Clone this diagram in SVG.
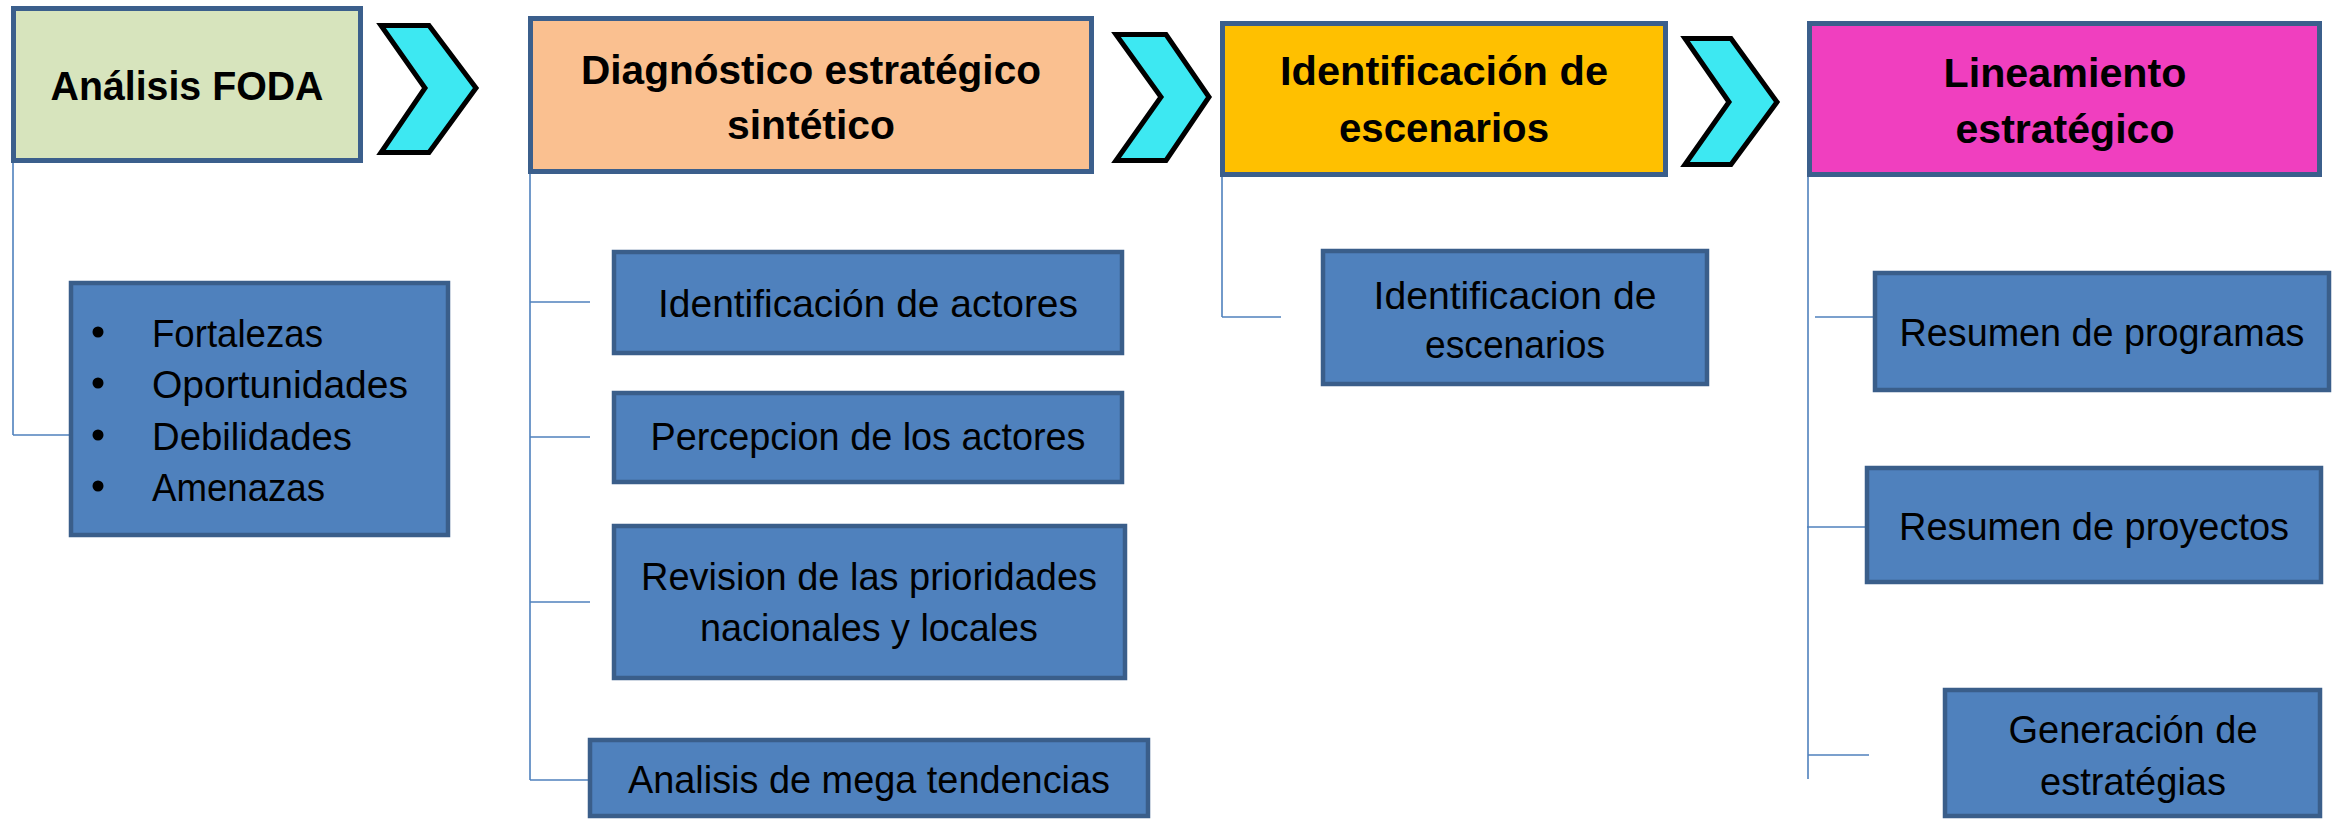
<svg xmlns="http://www.w3.org/2000/svg" width="2336" height="821" viewBox="0 0 2336 821">
<style>
.hdr{stroke:#3B5F8C;stroke-width:5}
.child{fill:#4F81BD;stroke:#3A5E8A;stroke-width:4.5}
.chev{fill:#3DE8F2;stroke:#000;stroke-width:5;stroke-linejoin:miter}
.tb{font-family:"Liberation Sans",Arial,sans-serif;font-weight:bold;font-size:40px;fill:#000;text-anchor:middle}
.tr{font-family:"Liberation Sans",Arial,sans-serif;font-size:39px;fill:#000;text-anchor:middle}
.tl{font-family:"Liberation Sans",Arial,sans-serif;font-size:39px;fill:#000}
.conn line{stroke:#4F81BD;stroke-width:1.6;fill:none}
</style>
<rect width="2336" height="821" fill="#fff"/>
<g class="conn" id="connectors">
<line x1="13" y1="160" x2="13" y2="435"/>
<line x1="13" y1="435" x2="70" y2="435"/>
<line x1="530" y1="172" x2="530" y2="780"/>
<line x1="530" y1="302" x2="590" y2="302"/>
<line x1="530" y1="437" x2="590" y2="437"/>
<line x1="530" y1="602" x2="590" y2="602"/>
<line x1="530" y1="780" x2="589" y2="780"/>
<line x1="1222" y1="175" x2="1222" y2="317"/>
<line x1="1222" y1="317" x2="1281" y2="317"/>
<line x1="1808" y1="175" x2="1808" y2="779"/>
<line x1="1815" y1="317" x2="1875" y2="317"/>
<line x1="1807" y1="527" x2="1867" y2="527"/>
<line x1="1808" y1="755" x2="1869" y2="755"/>
</g>
<g id="chevrons">
<polygon class="chev" points="381,25.5 429,25.5 476,88 429,152.5 381,152.5 425,88"/>
<polygon class="chev" points="1116,34.5 1166,34.5 1209,97 1166,160.5 1116,160.5 1161,97"/>
<polygon class="chev" points="1685,38.5 1731,38.5 1777,102 1731,164.5 1685,164.5 1729,102"/>
</g>
<g id="n-foda">
<rect class="hdr" x="13.5" y="8.5" width="347" height="152" fill="#D7E4BD"/>
<text class="tb" x="187" y="100" textLength="273" lengthAdjust="spacingAndGlyphs">Análisis FODA</text>
</g>
<g id="n-diag">
<rect class="hdr" x="530.5" y="18.5" width="561" height="153" fill="#FAC090"/>
<text class="tb" x="811" y="84" textLength="460" lengthAdjust="spacingAndGlyphs">Diagnóstico estratégico</text>
<text class="tb" x="811" y="139" textLength="168" lengthAdjust="spacingAndGlyphs">sintético</text>
</g>
<g id="n-ident">
<rect class="hdr" x="1222.5" y="23.5" width="443" height="151" fill="#FFC000"/>
<text class="tb" x="1444" y="85" textLength="328" lengthAdjust="spacingAndGlyphs">Identificación de</text>
<text class="tb" x="1444" y="142" textLength="210" lengthAdjust="spacingAndGlyphs">escenarios</text>
</g>
<g id="n-linea">
<rect class="hdr" x="1809.5" y="23.5" width="510" height="151" fill="#F03FBF"/>
<text class="tb" x="2065" y="87" textLength="243" lengthAdjust="spacingAndGlyphs">Lineamiento</text>
<text class="tb" x="2065" y="143" textLength="219" lengthAdjust="spacingAndGlyphs">estratégico</text>
</g>
<g id="n-foda-list">
<rect class="child" x="71" y="283" width="377" height="252"/>
<circle cx="98" cy="332" r="5.5"/>
<circle cx="98" cy="383" r="5.5"/>
<circle cx="98" cy="435" r="5.5"/>
<circle cx="98" cy="486" r="5.5"/>
<text class="tl" x="152" y="347" textLength="171" lengthAdjust="spacingAndGlyphs">Fortalezas</text>
<text class="tl" x="152" y="398" textLength="256" lengthAdjust="spacingAndGlyphs">Oportunidades</text>
<text class="tl" x="152" y="450" textLength="200" lengthAdjust="spacingAndGlyphs">Debilidades</text>
<text class="tl" x="152" y="501" textLength="173" lengthAdjust="spacingAndGlyphs">Amenazas</text>
</g>
<g id="n-actores">
<rect class="child" x="614" y="252" width="508" height="101"/>
<text class="tr" x="868" y="317" textLength="420" lengthAdjust="spacingAndGlyphs">Identificación de actores</text>
</g>
<g id="n-percepcion">
<rect class="child" x="614" y="393" width="508" height="89"/>
<text class="tr" x="868" y="450" textLength="435" lengthAdjust="spacingAndGlyphs">Percepcion de los actores</text>
</g>
<g id="n-revision">
<rect class="child" x="614" y="526" width="511" height="152"/>
<text class="tr" x="869" y="590" textLength="456" lengthAdjust="spacingAndGlyphs">Revision de las prioridades</text>
<text class="tr" x="869" y="641" textLength="338" lengthAdjust="spacingAndGlyphs">nacionales y locales</text>
</g>
<g id="n-mega">
<rect class="child" x="590" y="740" width="558" height="76"/>
<text class="tr" x="869" y="793" textLength="482" lengthAdjust="spacingAndGlyphs">Analisis de mega tendencias</text>
</g>
<g id="n-escenarios">
<rect class="child" x="1323" y="251" width="384" height="133"/>
<text class="tr" x="1515" y="309" textLength="283" lengthAdjust="spacingAndGlyphs">Identificacion de</text>
<text class="tr" x="1515" y="358" textLength="180" lengthAdjust="spacingAndGlyphs">escenarios</text>
</g>
<g id="n-programas">
<rect class="child" x="1875" y="273" width="454" height="117"/>
<text class="tr" x="2102" y="346" textLength="405" lengthAdjust="spacingAndGlyphs">Resumen de programas</text>
</g>
<g id="n-proyectos">
<rect class="child" x="1867" y="468" width="454" height="114"/>
<text class="tr" x="2094" y="540" textLength="390" lengthAdjust="spacingAndGlyphs">Resumen de proyectos</text>
</g>
<g id="n-estrategias">
<rect class="child" x="1945" y="690" width="375" height="126"/>
<text class="tr" x="2133" y="743" textLength="249" lengthAdjust="spacingAndGlyphs">Generación de</text>
<text class="tr" x="2133" y="795" textLength="186" lengthAdjust="spacingAndGlyphs">estratégias</text>
</g>
</svg>
